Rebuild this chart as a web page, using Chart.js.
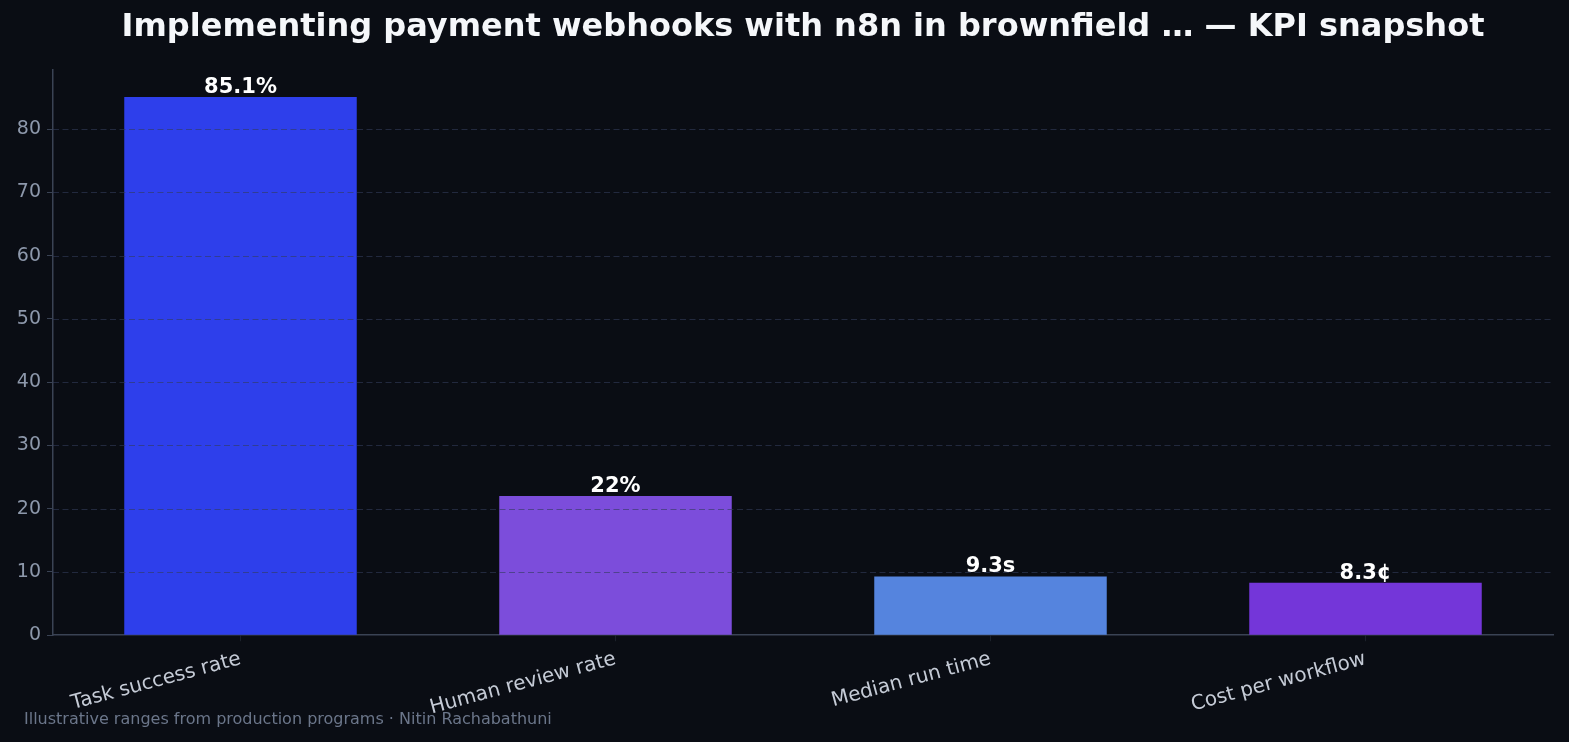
<!DOCTYPE html>
<html>
<head>
<meta charset="utf-8">
<script src="https://cdn.jsdelivr.net/npm/chart.js@4/dist/chart.umd.min.js"></script>
<style>
  html, body { margin: 0; padding: 0; background: #0a0d14; }
  #wrap { width: 1569px; height: 742px; }
</style>
</head>
<body>
<div id="wrap"><canvas id="kpi"></canvas></div>
<script>
const metricas = ["Task success rate", "Human review rate", "Median run time", "Cost per workflow"];
const valores = [85.1, 22, 9.3, 8.3];
const rotulos = ["85.1%", "22%", "9.3s", "8.3¢"];
const cores = ["#2e3feb", "#7c4ddb", "#5584de", "#7436d9"];
const titulo = "Implementing payment webhooks with n8n in brownfield … — KPI snapshot";
const rodape = "Illustrative ranges from production programs · Nitin Rachabathuni";

Chart.defaults.font.family = "'DejaVu Sans', sans-serif";

// grade tracejada por cima das barras
const gradePorCima = {
  id: 'gradePorCima',
  afterDatasetsDraw(chart) {
    const { ctx, chartArea, scales } = chart;
    ctx.save();
    ctx.strokeStyle = 'rgba(50,60,90,0.6)';
    ctx.lineWidth = 1.2;
    ctx.setLineDash([6, 3.5]);
    scales.y.ticks.forEach(t => {
      if (t.value === 0) return;
      const y = Math.round(scales.y.getPixelForValue(t.value)) + 0.5;
      ctx.beginPath();
      ctx.moveTo(chartArea.left, y);
      ctx.lineTo(chartArea.right, y);
      ctx.stroke();
    });
    ctx.restore();
  }
};

const valoresNasBarras = {
  id: 'valoresNasBarras',
  afterDatasetsDraw(chart) {
    const { ctx } = chart;
    ctx.save();
    ctx.fillStyle = '#ffffff';
    ctx.font = "bold 21px 'DejaVu Sans'";
    ctx.textAlign = 'center';
    ctx.textBaseline = 'bottom';
    chart.getDatasetMeta(0).data.forEach((bar, i) => {
      ctx.fillText(rotulos[i], bar.x, bar.y + 1);
    });
    ctx.restore();
  }
};

// título centrado sobre a área do gráfico, e a nota de rodapé
const textos = {
  id: 'textos',
  afterDraw(chart) {
    const { ctx, chartArea } = chart;
    ctx.save();
    ctx.fillStyle = '#f5f7fa';
    ctx.font = "bold 32px 'DejaVu Sans'";
    ctx.textAlign = 'center';
    ctx.textBaseline = 'middle';
    ctx.fillText(titulo, (chartArea.left + chartArea.right) / 2, 28);
    ctx.fillStyle = '#6b768a';
    ctx.font = "16px 'DejaVu Sans'";
    ctx.textAlign = 'left';
    ctx.fillText(rodape, 24, 720);
    ctx.restore();
  }
};

new Chart(document.getElementById('kpi'), {
  type: 'bar',
  data: {
    labels: metricas,
    datasets: [{
      data: valores,
      backgroundColor: cores,
      borderWidth: 0,
      barPercentage: 0.62,
      categoryPercentage: 1
    }]
  },
  options: {
    responsive: true,
    maintainAspectRatio: false,
    animation: false,
    layout: { padding: { top: 70, right: 16, bottom: 16, left: 4 } },
    plugins: {
      legend: { display: false },
      tooltip: { enabled: false },
      title: { display: false }
    },
    scales: {
      x: {
        offset: true,
        grid: { offset: false, drawOnChartArea: false, drawTicks: true, tickLength: 6, tickColor: '#1c212b' },
        border: { color: '#3a4354', width: 1.5 },
        ticks: { color: '#c5cbd6', font: { size: 20 }, minRotation: 15, maxRotation: 15, padding: 6 }
      },
      y: {
        min: 0,
        max: 89.36,
        afterBuildTicks: s => { s.ticks = s.ticks.filter(t => t.value % 10 === 0); },
        afterFit: s => { s.width = 49; },
        grid: { drawOnChartArea: false, drawTicks: true, tickLength: 6, tickColor: '#3a4354' },
        border: { color: '#3a4354', width: 1.5 },
        ticks: { stepSize: 10, color: '#8d98ab', font: { size: 19 }, padding: 6 }
      }
    }
  },
  plugins: [gradePorCima, valoresNasBarras, textos]
});
</script>
</body>
</html>
